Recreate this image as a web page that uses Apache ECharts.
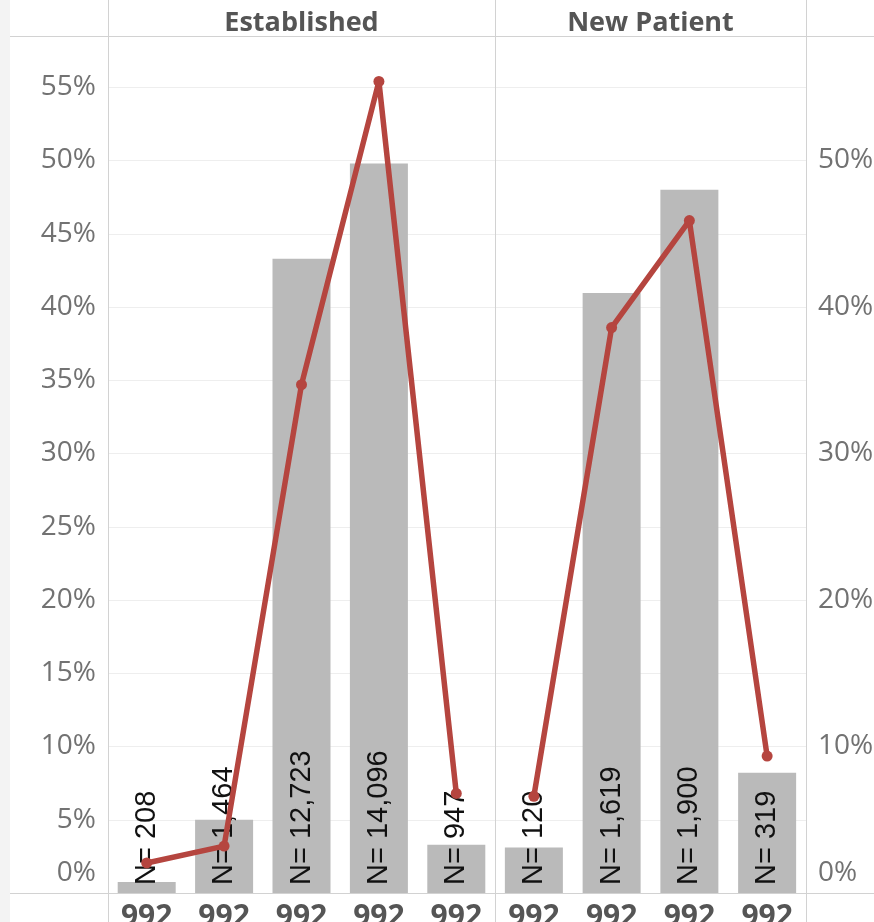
<!DOCTYPE html>
<html>
<head>
<meta charset="utf-8">
<script src="https://cdn.jsdelivr.net/npm/echarts@6/dist/echarts.min.js"></script>
<style>
  html, body { margin: 0; padding: 0; background: #fff; }
  #chart { width: 874px; height: 922px; }
</style>
</head>
<body>
<div id="chart"></div>
<script>
// Visit-level codes per patient group (labels are truncated to the first three digits)
const establishedCodes = ['992', '992', '992', '992', '992'];
const newPatientCodes = ['992', '992', '992', '992'];

// Number of visits behind each bar
const establishedN = [208, 1464, 12723, 14096, 947];
const newPatientN = [120, 1619, 1900, 319];

// Bar measure (% of visits)
const establishedShare = [0.75, 5.0, 43.3, 49.8, 3.3];
const newPatientShare = [3.1, 40.95, 48.0, 8.2];

// Line measure (%)
const establishedLine = [2.05, 3.2, 34.7, 55.4, 6.8];
const newPatientLine = [6.6, 38.6, 45.9, 9.35];

const Y_MAX = 58.5;
const PLOT_TOP = 36;
const PLOT_BOTTOM = 893;
const LEFT_X = 108, MID_X = 495, RIGHT_X = 806;

const BAR_COLOR = '#bababa';
const LINE_COLOR = '#b5453f';
const RULE_COLOR = '#d2d2d2';
const GRID_COLOR = '#eeeeee';
const AXIS_TEXT = '#727272';

const fmtN = n => 'N= ' + n.toLocaleString('en-US');

const chart = echarts.init(document.getElementById('chart'), null, { renderer: 'canvas' });

function yAxisFor(gridIndex, position, step) {
  return {
    type: 'value',
    gridIndex,
    position,
    min: 0,
    max: Y_MAX,
    interval: 5,
    axisLine: { show: false },
    axisTick: { show: false },
    splitLine: { show: true, lineStyle: { color: GRID_COLOR, width: 1 } },
    axisLabel: {
      show: true,
      margin: 12,
      fontFamily: 'Open Sans',
      fontSize: 28,
      lineHeight: 40,
      color: AXIS_TEXT,
      verticalAlignMinLabel: 'bottom',
      formatter: v => (Math.abs(v % step) < 1e-6 && v <= 55 ? v + '%' : '')
    }
  };
}

function xAxisFor(gridIndex, codes) {
  return {
    type: 'category',
    gridIndex,
    data: codes,
    axisLine: { show: false },
    axisTick: { show: false },
    splitLine: { show: false },
    axisLabel: {
      margin: 9,
      fontFamily: 'Open Sans',
      fontSize: 30,
      fontWeight: 'bold',
      color: '#555555',
      interval: 0
    }
  };
}

function barSeries(idx, values, counts) {
  return {
    type: 'bar',
    xAxisIndex: idx,
    yAxisIndex: idx,
    data: values,
    barWidth: 58,
    z: 2,
    itemStyle: { color: BAR_COLOR },
    label: {
      show: true,
      position: 'insideBottom',
      distance: 8,
      rotate: 90,
      align: 'left',
      verticalAlign: 'middle',
      fontFamily: 'Liberation Sans',
      fontSize: 29,
      color: '#111111',
      formatter: p => fmtN(counts[p.dataIndex])
    }
  };
}

function lineSeries(idx, values) {
  return {
    type: 'line',
    xAxisIndex: idx,
    yAxisIndex: idx,
    data: values,
    z: 5,
    symbol: 'circle',
    symbolSize: 11,
    lineStyle: { color: LINE_COLOR, width: 5.5 },
    itemStyle: { color: LINE_COLOR },
    label: { show: false }
  };
}

const option = {
  animation: false,
  backgroundColor: '#ffffff',
  grid: [
    { left: LEFT_X, width: MID_X - LEFT_X, top: PLOT_TOP, height: PLOT_BOTTOM - PLOT_TOP,
      containLabel: false, outerBoundsMode: 'none' },
    { left: MID_X, width: RIGHT_X - MID_X, top: PLOT_TOP, height: PLOT_BOTTOM - PLOT_TOP,
      containLabel: false, outerBoundsMode: 'none' }
  ],
  xAxis: [xAxisFor(0, establishedCodes), xAxisFor(1, newPatientCodes)],
  yAxis: [yAxisFor(0, 'left', 5), yAxisFor(1, 'right', 10)],
  series: [
    barSeries(0, establishedShare, establishedN),
    lineSeries(0, establishedLine),
    barSeries(1, newPatientShare, newPatientN),
    lineSeries(1, newPatientLine)
  ],
  graphic: [
    // pale strip at the left edge
    { type: 'rect', left: 0, top: 0, shape: { x: 0, y: 0, width: 10, height: 922 },
      style: { fill: '#f3f3f3' }, z: -1, silent: true },
    // header band and baseline rules
    { type: 'line', shape: { x1: 10, y1: PLOT_TOP + 0.5, x2: 874, y2: PLOT_TOP + 0.5 },
      style: { stroke: RULE_COLOR, lineWidth: 1 }, z: 10, silent: true },
    { type: 'line', shape: { x1: 10, y1: PLOT_BOTTOM + 0.5, x2: 874, y2: PLOT_BOTTOM + 0.5 },
      style: { stroke: RULE_COLOR, lineWidth: 1 }, z: 10, silent: true },
    // panel dividers
    { type: 'line', shape: { x1: LEFT_X + 0.5, y1: 0, x2: LEFT_X + 0.5, y2: 922 },
      style: { stroke: RULE_COLOR, lineWidth: 1 }, z: 10, silent: true },
    { type: 'line', shape: { x1: MID_X + 0.5, y1: 0, x2: MID_X + 0.5, y2: 922 },
      style: { stroke: RULE_COLOR, lineWidth: 1 }, z: 10, silent: true },
    { type: 'line', shape: { x1: RIGHT_X + 0.5, y1: 0, x2: RIGHT_X + 0.5, y2: 922 },
      style: { stroke: RULE_COLOR, lineWidth: 1 }, z: 10, silent: true },
    // panel headers
    { type: 'text', x: (LEFT_X + MID_X) / 2, y: 23, z: 10, silent: true,
      style: { text: 'Established', fontFamily: 'Open Sans', fontSize: 27, fontWeight: 'bold',
               fill: '#555555', align: 'center', verticalAlign: 'middle' } },
    { type: 'text', x: (MID_X + RIGHT_X) / 2, y: 23, z: 10, silent: true,
      style: { text: 'New Patient', fontFamily: 'Open Sans', fontSize: 27, fontWeight: 'bold',
               fill: '#555555', align: 'center', verticalAlign: 'middle' } }
  ]
};

chart.setOption(option);
</script>
</body>
</html>
